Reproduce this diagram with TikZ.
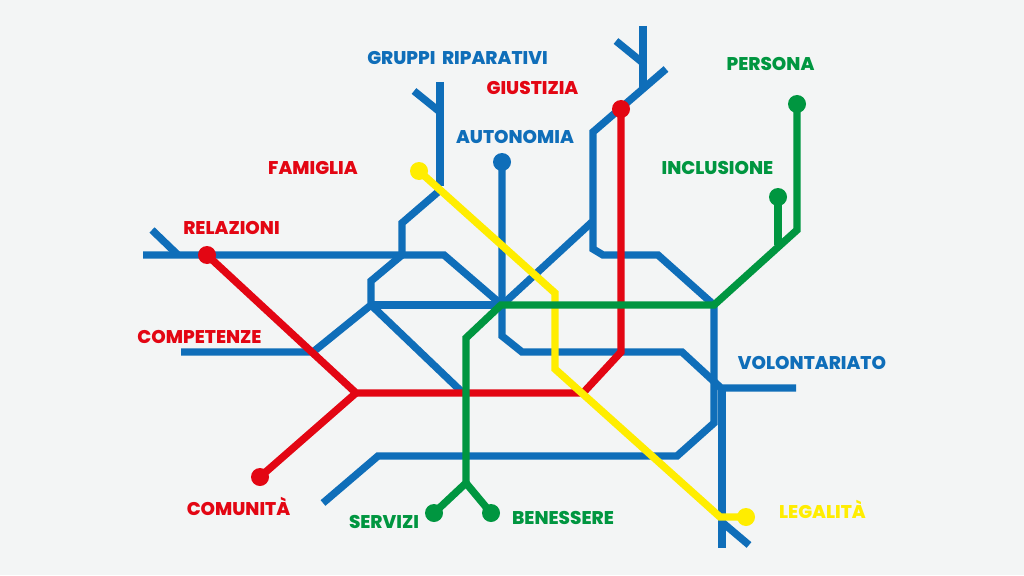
\documentclass[tikz,border=0pt]{standalone}
\usepackage{fontspec}
\setmainfont{Poppins}[BoldFont={Poppins ExtraBold}]
\definecolor{sfondo}{HTML}{F3F5F5}
\definecolor{metroblu}{HTML}{0F6EB9}
\definecolor{metrorosso}{HTML}{E30613}
\definecolor{metroverde}{HTML}{009640}
\definecolor{metrogiallo}{HTML}{FFED00}
\tikzset{
    linea/.style={line width=7.4pt},
    fermata/.style={circle,inner sep=0pt,minimum size=18pt},
    nome/.style={font=\fontsize{18.4pt}{20pt}\selectfont\bfseries,inner sep=0pt,anchor=center}
}

\begin{document}
\begin{tikzpicture}[x=1pt,y=-1pt]
        \fill[sfondo] (0,0) rectangle (1024,575);
        \useasboundingbox (0,0) rectangle (1024,575);

        \coordinate (Rs) at (143,255);
        \coordinate (Rb) at (444,255);
        \coordinate (Hub) at (502,305);
        \coordinate (Rt1) at (152,230);
        \coordinate (Rt2) at (178,255);
        \coordinate (Gt) at (440,82);
        \coordinate (Gg) at (440,186);
        \coordinate (Gr1) at (414,91);
        \coordinate (Gr2) at (440,112);
        \coordinate (Gd) at (438,192);
        \coordinate (G1) at (402,223);
        \coordinate (G2) at (402,255);
        \coordinate (G3) at (371,281);
        \coordinate (G4) at (371,305);
        \coordinate (G5) at (313,352);
        \coordinate (G6) at (181,352);
        \coordinate (G7) at (463,393);
        \coordinate (A1) at (502,336);
        \coordinate (A2) at (522,352);
        \coordinate (A3) at (682,352);
        \coordinate (A4) at (721,388);
        \coordinate (A5) at (796,388);
        \coordinate (V1) at (722,388);
        \coordinate (V2) at (722,548);
        \coordinate (V3) at (723,523);
        \coordinate (V4) at (749,545);
        \coordinate (Tt) at (643,26);
        \coordinate (Tg) at (643,88);
        \coordinate (Tr1) at (616,41);
        \coordinate (Tr2) at (643,63);
        \coordinate (T0) at (666,69);
        \coordinate (T1) at (593,132);
        \coordinate (T2) at (593,249);
        \coordinate (T3) at (603,255);
        \coordinate (T4) at (658,255);
        \coordinate (T5) at (714,305);
        \coordinate (T6) at (714,423);
        \coordinate (T7) at (677,456);
        \coordinate (T8) at (378,456);
        \coordinate (T9) at (323,503);
        \coordinate (Hd) at (592,222);
        \coordinate (Ra) at (621,352);
        \coordinate (Rc) at (583,393);
        \coordinate (Rn) at (356,393);
        \coordinate (Y1) at (555,293);
        \coordinate (Y2) at (555,369);
        \coordinate (Y3) at (720,517);
        \coordinate (V5) at (797,230);
        \coordinate (V6) at (778,245);
        \coordinate (V7) at (501,305);
        \coordinate (V8) at (466,338);
        \coordinate (V9) at (466,483);

        \node[fermata,fill=metroblu] (autonomiaF) at (502,162) {};
        \draw[linea,metroblu] (Rs)--(Rb)--(Hub)--(Hd);
        \draw[linea,metroblu] (Rt1)--(Rt2);
        \draw[linea,metroblu] (Gt)--(Gg);
        \draw[linea,metroblu] (Gr1)--(Gr2);
        \draw[linea,metroblu] (Gd)--(G1)--(G2)--(G3)--(G4)--(G5)--(G6);
        \draw[linea,metroblu] (G4)--(Hub);
        \draw[linea,metroblu] (G4)--(G7);
        \draw[linea,metroblu] (autonomiaF.center)--(A1)--(A2)--(A3)--(A4)--(A5);
        \draw[linea,metroblu] (V1)--(V2);
        \draw[linea,metroblu] (V3)--(V4);
        \draw[linea,metroblu] (Tt)--(Tg);
        \draw[linea,metroblu] (Tr1)--(Tr2);
        \draw[linea,metroblu] (T0)--(T1)--(T2)--(T3)--(T4)--(T5)--(T6)--(T7)--(T8)--(T9);

        \node[fermata,fill=metrorosso] (giustiziaF) at (621,109) {};
        \node[fermata,fill=metrorosso] (relazioniF) at (207,255) {};
        \node[fermata,fill=metrorosso] (comunitaF) at (260,477) {};
        \draw[linea,metrorosso] (giustiziaF.center)--(Ra)--(Rc)--(Rn)--(relazioniF.center);
        \draw[linea,metrorosso] (Rn)--(comunitaF.center);

        \node[fermata,fill=metrogiallo] (famigliaF) at (419,171) {};
        \node[fermata,fill=metrogiallo] (legalitaF) at (746,517) {};
        \draw[linea,metrogiallo] (famigliaF.center)--(Y1)--(Y2)--(Y3)--(legalitaF.center);

        \node[fermata,fill=metroverde] (personaF) at (797,104) {};
        \node[fermata,fill=metroverde] (inclusioneF) at (778,197) {};
        \node[fermata,fill=metroverde] (serviziF) at (434,513) {};
        \node[fermata,fill=metroverde] (benessereF) at (491,513) {};
        \draw[linea,metroverde] (personaF.center)--(V5)--(T5)--(V7)--(V8)--(V9)--(serviziF.center);
        \draw[linea,metroverde] (inclusioneF.center)--(V6);
        \draw[linea,metroverde] (V9)--(benessereF.center);

        \node[nome,metroblu] (gruppi) at (457.5,58) {GRUPPI\hspace{3pt} RIPARATIVI};
        \node[nome,metrorosso] (giustizia) at (532.5,88) {GIUSTIZIA};
        \node[nome,metroblu] (autonomia) at (515,137) {AUTONOMIA};
        \node[nome,metrorosso] (famiglia) at (313,168) {FAMIGLIA};
        \node[nome,metrorosso] (relazioni) at (231.5,228) {RELAZIONI};
        \node[nome,metrorosso] (competenze) at (199.5,337) {COMPETENZE};
        \node[nome,metrorosso] (comunita) at (238.5,506) {COMUNITÀ};
        \node[nome,metroverde] (servizi) at (384,522) {SERVIZI};
        \node[nome,metroverde] (benessere) at (563,518) {BENESSERE};
        \node[nome,metrogiallo] (legalita) at (822.5,509) {LEGALITÀ};
        \node[nome,metroblu] (volontariato) at (812,363) {VOLONTARIATO};
        \node[nome,metroverde] (inclusione) at (717.5,168) {INCLUSIONE};
        \node[nome,metroverde] (persona) at (770.5,64) {PERSONA};
    \end{tikzpicture}
\end{document}
